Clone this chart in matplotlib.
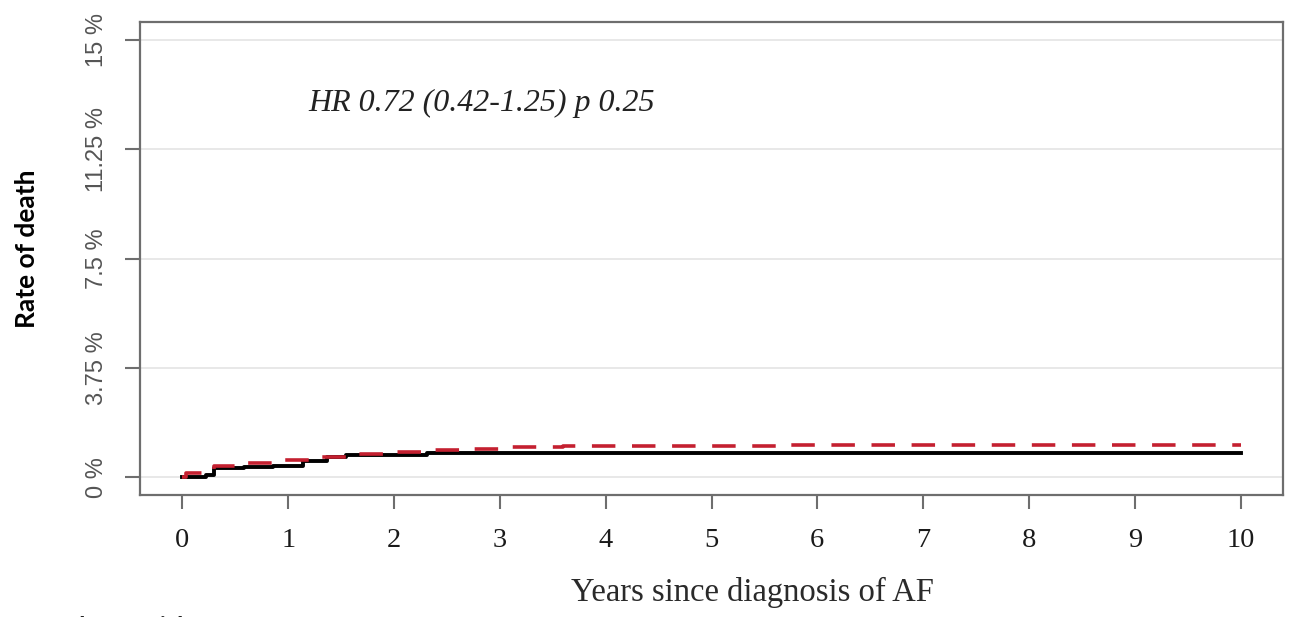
import matplotlib.pyplot as plt

# curvas de mortalidad acumulada (%)
years_black = [0, 0.22, 0.30, 0.58, 0.86, 1.14, 1.37, 1.55, 2.31, 10]
rate_black = [0, 0.10, 0.31, 0.35, 0.39, 0.56, 0.71, 0.77, 0.85, 0.85]

years_red = [0, 0.03, 0.30, 0.50, 0.85, 1.20, 1.55, 1.90, 2.30, 2.75, 3.05, 3.60, 5.64, 10]
rate_red = [0, 0.15, 0.39, 0.50, 0.60, 0.71, 0.79, 0.86, 0.95, 0.99, 1.03, 1.07, 1.12, 1.12]

x_ticks = list(range(0, 11))
y_ticks = [0, 3.75, 7.5, 11.25, 15]
y_tick_labels = ['0 %', '3.75 %', '7.5 %', '11.25 %', '15 %']
hr_text = 'HR 0.72 (0.42-1.25) p 0.25'

fig = plt.figure(figsize=(12.97, 6.17), dpi=100)
ax = fig.add_axes([140 / 1297, 1 - 495 / 617, (1283 - 140) / 1297, (495 - 22) / 617])

for y in y_ticks:
    ax.axhline(y, color='#e4e4e4', lw=1.2, zorder=0)

ax.step(years_black, rate_black, where='post', color='black', lw=2.8, zorder=3)
ax.step(years_red, rate_red, where='post', color='#c42030', lw=2.6,
        linestyle=(0, (6.5, 4.6)), zorder=4)

ax.set_xlim(-0.4, 10.4)
ax.set_ylim(-0.6, 15.6)

ax.set_xticks(x_ticks)
ax.set_xticklabels([str(x) for x in x_ticks], fontfamily='Liberation Serif', fontsize=20.5, color='#1a1a1a')
ax.set_yticks(y_ticks)
ax.set_yticklabels(y_tick_labels, fontfamily='Liberation Sans', fontsize=17, color='#555555',
                   rotation=90, va='center')

ax.tick_params(axis='x', length=10, width=1.5, color='#6e6e6e', pad=14)
ax.tick_params(axis='y', length=11, width=1.5, color='#6e6e6e', pad=12)
for s in ax.spines.values():
    s.set_color('#6e6e6e')
    s.set_linewidth(1.6)

ax.text(1.19, 12.54, hr_text, fontfamily='Liberation Serif', style='italic',
        fontsize=23, color='#222222', va='baseline', ha='left')

fig.text(752 / 1297, 16 / 617, 'Years since diagnosis of AF', fontfamily='Liberation Serif',
         fontsize=23.5, color='#2a2a2a', ha='center', va='baseline')
fig.text(27 / 1297, 1 - 249 / 617, 'Rate of death', fontfamily='Lato', fontweight='bold',
         fontsize=19, rotation=90, ha='center', va='center')
# texto cortado en el borde inferior, como en la figura original
fig.text(25 / 1297, 1 / 617, 'Number at risk', fontfamily='Lato', fontweight='bold',
         fontsize=18, color='#222222', ha='left', va='top')

fig.savefig('out.png', dpi=100)
